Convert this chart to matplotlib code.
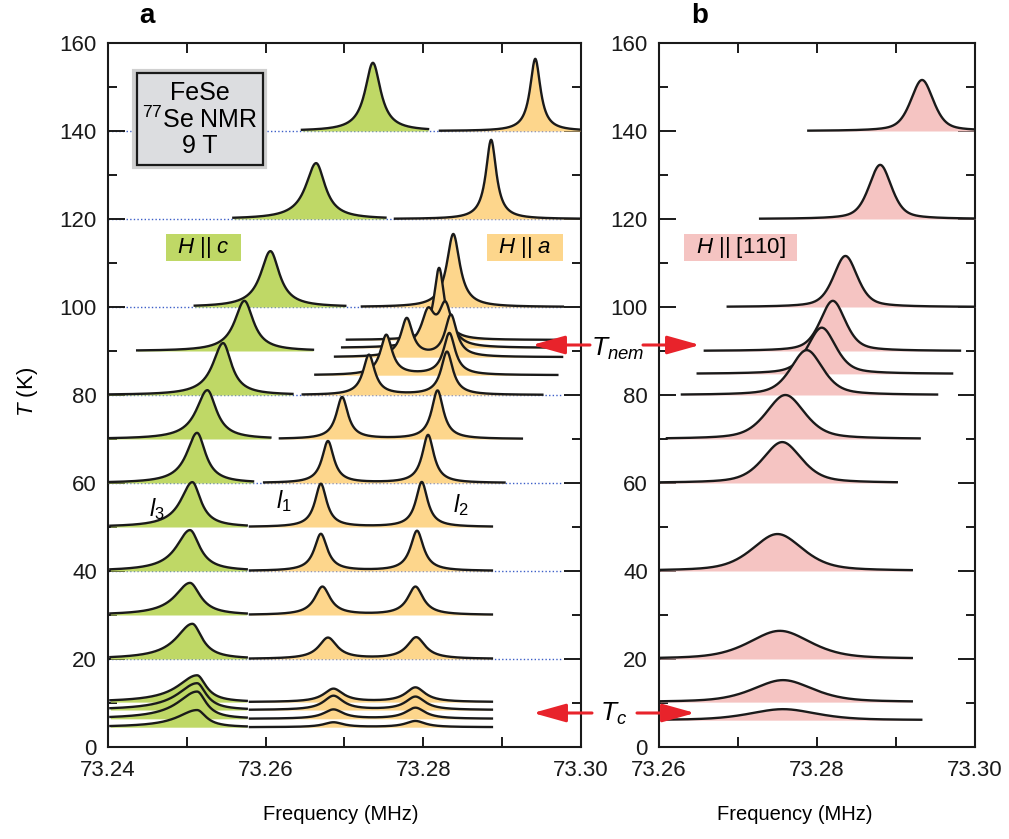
import numpy as np
import matplotlib
matplotlib.use("Agg")
import matplotlib.pyplot as plt
from matplotlib.patches import Rectangle, FancyArrowPatch

plt.rcParams['font.family'] = ['Liberation Sans', 'DejaVu Sans']
plt.rcParams['mathtext.fontset'] = 'custom'
plt.rcParams['mathtext.rm'] = 'Liberation Sans'
plt.rcParams['mathtext.it'] = 'Liberation Sans:italic'

# ---- panel a, H || c (line l3) ----
temp_c = [140, 120, 100, 90, 80, 70, 60, 50, 40, 30, 20, 10.2, 8.4, 6.4, 4.5]
freq_c = [73.2736, 73.2664, 73.2606, 73.2573, 73.2546, 73.2526, 73.2513, 73.2507,
          73.2504, 73.2504, 73.2507, 73.2513, 73.2513, 73.2513, 73.2513]
height_c = [15.5, 12.7, 12.7, 11.4, 11.8, 11.1, 11.4, 10.2, 9.3, 7.3, 8.0, 6.1, 6.1, 6.2, 3.9]
hwl_c = [0.0012, 0.0016, 0.0015, 0.0015, 0.0016, 0.0017, 0.0016, 0.0018, 0.0021, 0.0023,
         0.0025, 0.0030, 0.0030, 0.0030, 0.0030]
hwr_c = [0.0012, 0.0014, 0.0014, 0.0014, 0.0013, 0.0014, 0.0013, 0.0013, 0.0015, 0.0016,
         0.0015, 0.0014, 0.0014, 0.0014, 0.0014]
start_c = [73.2646, 73.2559, 73.2510, 73.2437, 73.2400, 73.2400, 73.2400, 73.2403,
           73.2403, 73.2403, 73.2403, 73.2403, 73.2403, 73.2403, 73.2403]
stop_c = [73.2806, 73.2752, 73.2701, 73.2660, 73.2634, 73.2606, 73.2584, 73.2576,
          73.2576, 73.2576, 73.2576, 73.2576, 73.2576, 73.2576, 73.2576]

# ---- panel a, H || a (lines l1, l2) ----
temp_a = [140, 120, 100, 92.5, 90.7, 88.6, 84.5, 80, 70, 60, 50, 40, 30, 20,
          10.2, 8.4, 6.4, 4.5]
freq_l1 = [73.2942, 73.2886, 73.2838, 73.2820, 73.2806, 73.2779, 73.2753, 73.2731,
           73.2697, 73.2679, 73.2670, 73.2670, 73.2672, 73.2679, 73.2686, 73.2686,
           73.2686, 73.2686]
height_l1 = [16.4, 18.0, 16.6, 16.4, 7.6, 8.7, 9.1, 9.1, 9.5, 9.5, 9.8, 8.4, 6.4, 4.8,
             3.0, 3.2, 2.1, 1.1]
freq_l2 = [73.2942, 73.2886, 73.2838, 73.2820, 73.2828, 73.2835, 73.2833, 73.2830,
           73.2818, 73.2806, 73.2798, 73.2792, 73.2790, 73.2791, 73.2790, 73.2790,
           73.2790, 73.2790]
height_l2 = [0, 0, 0, 0, 9.3, 9.5, 9.5, 9.8, 11.0, 10.9, 10.2, 9.1, 6.4, 4.9,
             3.3, 3.0, 2.5, 1.4]
hw_a = [0.0008, 0.0008, 0.0010, 0.0008, 0.0010, 0.0009, 0.0009, 0.0009, 0.0009, 0.0009,
        0.0009, 0.0010, 0.0012, 0.0014, 0.0015, 0.0015, 0.0015, 0.0015]
start_a = [73.2821, 73.2764, 73.2722, 73.2703, 73.2697, 73.2688, 73.2663, 73.2647,
           73.2618, 73.2598, 73.2580, 73.2580, 73.2580, 73.2580, 73.2580, 73.2580,
           73.2580, 73.2580]
stop_a = [73.2999, 73.2999, 73.2977, 73.2974, 73.2976, 73.2976, 73.2970, 73.2951,
          73.2925, 73.2903, 73.2887, 73.2887, 73.2887, 73.2887, 73.2887, 73.2887,
          73.2887, 73.2887]

# ---- panel b, H || [110] ----
temp_b = [140, 120, 100, 90, 84.8, 80, 70, 60, 40, 20, 10.2, 6.1]
freq_b = [73.2933, 73.2880, 73.2836, 73.2820, 73.2806, 73.2787, 73.2760, 73.2756,
          73.2750, 73.2753, 73.2757, 73.2757]
height_b = [11.6, 12.3, 11.6, 11.4, 10.5, 10.2, 10.0, 9.3, 8.4, 6.4, 5.0, 2.5]
hw_b = [0.0017, 0.0017, 0.0018, 0.0019, 0.0021, 0.0024, 0.0029, 0.0029, 0.0038,
        0.0046, 0.0045, 0.0050]
start_b = [73.2789, 73.2728, 73.2687, 73.2658, 73.2649, 73.2629, 73.2610, 73.2601,
           73.2601, 73.2601, 73.2601, 73.2610]
stop_b = [73.3000, 73.3000, 73.3000, 73.2981, 73.2971, 73.2952, 73.2930, 73.2901,
          73.2920, 73.2920, 73.2920, 73.2932]

ref_temps = [20, 40, 60, 80, 100, 120, 140]

GREEN = '#bfd866'
ORANGE = '#fdd68c'
PINK = '#f5c4c2'
RED = '#e8232b'


def lorentz(x, f0, h, wl, wr):
    w = np.where(x < f0, wl, wr)
    return h / (1 + ((x - f0) / w) ** 2)


def pvoigt(x, f0, h, w, eta=0.5):
    u = (x - f0) / w
    return h * (eta / (1 + u ** 2) + (1 - eta) * np.exp(-np.log(2) * u ** 2))


def draw(ax, x, base, y, color, z):
    ax.fill_between(x, base, base + y, color=color, lw=0, zorder=z)
    ax.plot(x, base + y, color='#1a1a1a', lw=1.7, zorder=z + 0.5,
            solid_joinstyle='round')


fig = plt.figure(figsize=(10.09, 8.39), dpi=100)
W, H = 1009, 839
axa = fig.add_axes([108 / W, 1 - 747 / H, 473 / W, 704 / H])
axb = fig.add_axes([659 / W, 1 - 747 / H, 316 / W, 704 / H])

# panel a
for t in ref_temps:
    axa.plot([73.24, 73.2977], [t, t], color='#3d5fc8', lw=1.0, ls=(0, (1, 1.6)), zorder=1)

items = []
for i, t in enumerate(temp_c):
    items.append((t, 'c', i))
for i, t in enumerate(temp_a):
    items.append((t, 'a', i))
items.sort(key=lambda k: -k[0])
for n, (t, kind, i) in enumerate(items):
    z = 2 + n
    if kind == 'c':
        x = np.linspace(start_c[i], stop_c[i], 400)
        y = lorentz(x, freq_c[i], height_c[i], hwl_c[i], hwr_c[i])
        draw(axa, x, t, y, GREEN, z)
    else:
        x = np.linspace(start_a[i], stop_a[i], 500)
        y = lorentz(x, freq_l1[i], height_l1[i], hw_a[i], hw_a[i])
        y = y + lorentz(x, freq_l2[i], height_l2[i], hw_a[i], hw_a[i])
        draw(axa, x, t, y, ORANGE, z)

# panel b
for n, t in enumerate(temp_b):
    x = np.linspace(start_b[n], stop_b[n], 400)
    y = pvoigt(x, freq_b[n], height_b[n], hw_b[n])
    draw(axb, x, t, y, PINK, 2 + n)

for ax, xmin, xt in [(axa, 73.24, [73.24, 73.26, 73.28, 73.30]),
                     (axb, 73.26, [73.26, 73.28, 73.30])]:
    ax.set_xlim(xmin, 73.30)
    ax.set_ylim(0, 160)
    ax.set_xticks(xt)
    ax.set_xticklabels(['%.2f' % v for v in xt])
    ax.set_xticks(np.arange(xmin + 0.01, 73.30, 0.02), minor=True)
    ax.set_yticks(np.arange(0, 161, 20))
    ax.set_yticks(np.arange(10, 160, 20), minor=True)
    ax.tick_params(axis='both', which='both', direction='in', top=True, right=True,
                   width=1.4, labelsize=16, colors='#1a1a1a')
    ax.tick_params(axis='x', which='both', length=7, pad=9)
    ax.tick_params(axis='y', which='major', length=12, pad=8)
    ax.tick_params(axis='y', which='minor', length=6.5)
    for s in ax.spines.values():
        s.set_linewidth(1.5)
        s.set_color('#1a1a1a')

# info box
axa.add_patch(Rectangle((73.2433, 131.8), 0.0166, 21.8, fc='none', ec='#d0d0d0',
                        lw=3, zorder=40))
axa.add_patch(Rectangle((73.2437, 132.3), 0.0159, 20.9, fc='#dcdde0', ec='#1a1a1a',
                        lw=1.6, zorder=41))
axa.text(73.2516, 148.6, 'FeSe', ha='center', va='center', fontsize=18, zorder=42)
axa.text(73.2516, 142.6, '$^{77}$Se NMR', ha='center', va='center', fontsize=18, zorder=42)
axa.text(73.2516, 136.6, '9 T', ha='center', va='center', fontsize=18, zorder=42)

# field-direction labels
for ax, x0, x1, col, txt in [(axa, 73.2474, 73.2569, GREEN, '$H$ || $c$'),
                             (axa, 73.2881, 73.2977, ORANGE, '$H$ || $a$'),
                             (axb, 73.2632, 73.2775, PINK, '$H$ || [110]')]:
    ax.add_patch(Rectangle((x0, 110.5), x1 - x0, 6.2, fc=col, ec='none', zorder=40))
    ax.text((x0 + x1) / 2, 113.6, txt, ha='center', va='center', fontsize=16, zorder=41)

axa.text(73.2462, 54.0, '$l_3$', ha='center', va='center', fontsize=17, zorder=60)
axa.text(73.2623, 56.0, '$l_1$', ha='center', va='center', fontsize=17, zorder=60)
axa.text(73.2848, 55.0, '$l_2$', ha='center', va='center', fontsize=17, zorder=60)

# panel letters and axis labels
fig.text(147 / W, 1 - 16 / H, 'a', fontsize=20, fontweight='bold', ha='center', va='center')
fig.text(700 / W, 1 - 16 / H, 'b', fontsize=20, fontweight='bold', ha='center', va='center')
fig.text(341 / W, 1 - 815 / H, 'Frequency (MHz)', fontsize=14.5, ha='center', va='center')
fig.text(795 / W, 1 - 815 / H, 'Frequency (MHz)', fontsize=14.5, ha='center', va='center')
fig.text(28 / W, 1 - 392 / H, '$T$ (K)', fontsize=16, ha='center', va='center', rotation=90)

# transition arrows
fig.text(618 / W, 1 - 349 / H, '$T_{nem}$', fontsize=19, ha='center', va='center')
fig.text(614 / W, 1 - 714 / H, '$T_c$', fontsize=19, ha='center', va='center')
for (x0, x1, yy) in [(590, 532, 345), (643, 700, 345), (592, 533, 713), (637, 695, 713)]:
    arr = FancyArrowPatch((x0 / W, 1 - yy / H), (x1 / W, 1 - yy / H),
                          transform=fig.transFigure,
                          arrowstyle='-|>,head_length=1.0,head_width=0.28',
                          mutation_scale=20, color=RED, lw=2.2, shrinkA=0, shrinkB=0)
    fig.add_artist(arr)

fig.savefig('out.png', dpi=100)
